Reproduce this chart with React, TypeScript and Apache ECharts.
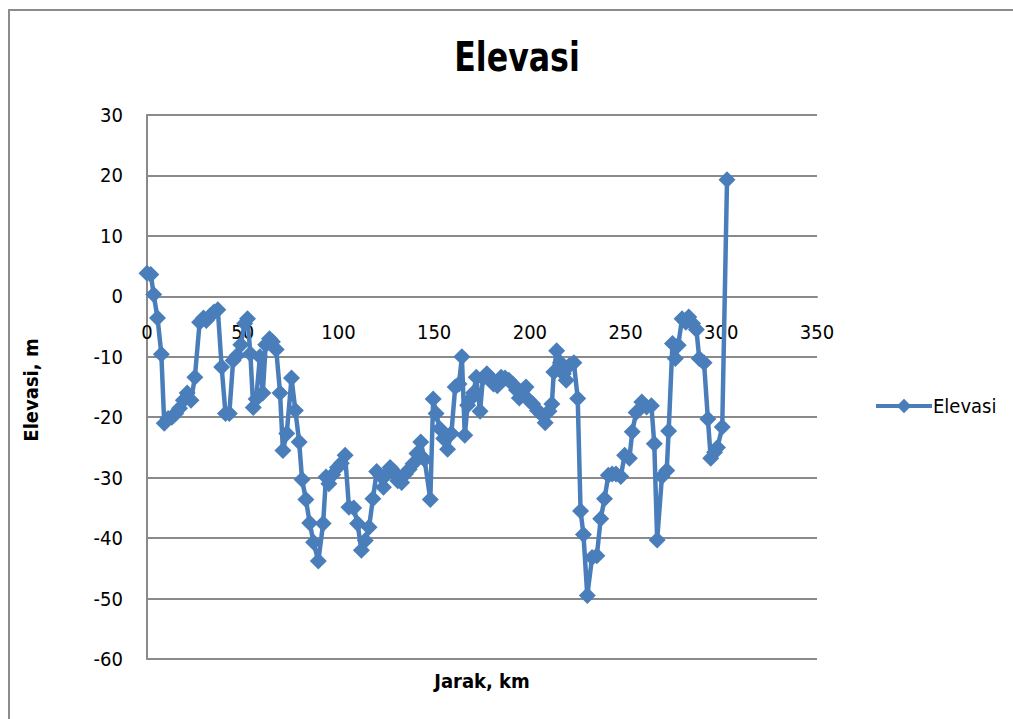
import React, { useEffect, useRef } from "react";
import * as echarts from "echarts";

// Distance along the profile (km)
const jarakKm: number[] = [
  0, 2, 3.5, 5.5, 7.5, 9, 11, 13, 15, 17, 19, 21, 23, 25, 27.5, 29.5, 31, 33, 35, 37,
  39, 41, 43, 45, 47, 49, 51, 52.5, 54, 55.5, 57, 59, 60.5, 62, 64, 65.5, 67.5, 69.5, 71, 73,
  75.5, 77.5, 79.5, 81, 83, 85, 87, 89.5, 92, 93.5, 95, 97, 99.5, 101.5, 103.5, 105.5, 108, 110, 112, 114,
  116, 118, 120, 122, 123.5, 125, 127, 129, 131, 133, 135, 137, 139, 141, 143, 145, 148, 149.5, 151, 153,
  155, 157, 159, 161, 163, 164.5, 166, 167.5, 169, 170.5, 172, 174, 175.5, 177.5, 179.5, 181, 183, 185, 187, 189,
  191, 193, 194.5, 196.5, 198, 199.5, 201.5, 204, 206, 208, 210, 211.5, 212.5, 214, 216, 217.5, 219, 220.5, 223, 225,
  226.5, 228, 230, 232.5, 235, 237, 239, 241, 243, 245, 247.5, 249.5, 252, 253.5, 255.5, 258.5, 261, 263.5, 265, 266.5,
  269, 271.5, 272.5, 274.5, 276, 277.5, 279.5, 281.5, 283, 285, 287, 288.5, 291, 293, 294.5, 296.5, 298, 300.5, 303,
];

// Elevation at each distance (m)
const elevasiM: number[] = [
  3.8, 3.6, 0.3, -3.6, -9.6, -21, -20.2, -20, -19.4, -18.5, -17.2, -16, -17.2, -13.4, -4.3, -3.6, -4, -3.2, -2.6, -2.2,
  -11.7, -19.4, -19.4, -10.6, -9.8, -8, -4.5, -3.7, -9.5, -18.4, -17, -10, -16, -8, -7, -7.5, -8.8, -16, -25.5, -22.7,
  -13.5, -18.9, -24.1, -30.3, -33.6, -37.5, -40.7, -43.8, -37.6, -29.9, -31, -29.5, -28.3, -27.6, -26.3, -34.9, -35, -37.6, -42, -40.4,
  -38.2, -33.5, -29, -29.7, -31.6, -29.5, -28.3, -29, -30.5, -30.8, -29.4, -28.6, -27.7, -26, -24.1, -27, -33.6, -17, -19.4, -21.9,
  -23.5, -25.3, -22.7, -15, -14.5, -10, -23, -18, -17, -16, -13.4, -19, -13.5, -12.8, -13.5, -14.5, -14.8, -13.4, -13.5, -13.9,
  -14.5, -15.5, -16.8, -15.5, -15, -17.2, -17.8, -18.9, -19.5, -20.9, -19, -17.8, -12.5, -9, -11, -12.8, -13.9, -11.5, -11, -16.9,
  -35.5, -39.4, -49.5, -43.2, -42.9, -36.8, -33.5, -29.6, -29.4, -29.4, -29.8, -26.3, -26.8, -22.4, -19.2, -17.5, -18.3, -18.1, -24.4, -40.3,
  -29.8, -28.8, -22.3, -7.8, -10.3, -8.1, -3.7, -4.3, -3.4, -4.5, -5.5, -10.3, -11, -20.3, -26.8, -25.8, -25, -21.6, 19.3,
];

const seriesName = "Elevasi";
const xTicks = { min: 0, max: 350, step: 50 };
const yTicks = { min: -60, max: 30, step: 10 };

const FONT = "'Liberation Sans Narrow', 'DejaVu Sans Condensed', sans-serif";
const LINE_BLUE = "#4A7EBB";
const GRID_GRAY = "#8A8A8A";

const GRID_TOP = 115;
const GRID_HEIGHT = 544;

export default function App() {
  const ref = useRef<HTMLDivElement>(null);

  useEffect(() => {
    if (!ref.current) return;
    const chart = echarts.init(ref.current, undefined, { renderer: "svg" });
    const points = jarakKm.map((x, i) => [x, elevasiM[i]]);

    // The horizontal axis sits on the zero line, as in a spreadsheet chart
    const zeroFromBottom = (GRID_HEIGHT * (0 - yTicks.min)) / (yTicks.max - yTicks.min);

    chart.setOption({
      animation: false,
      backgroundColor: "#ffffff",
      textStyle: { fontFamily: FONT },
      grid: { left: 147, top: GRID_TOP, width: 670, height: GRID_HEIGHT, containLabel: false },
      xAxis: {
        type: "value",
        position: "bottom",
        offset: -zeroFromBottom,
        min: xTicks.min,
        max: xTicks.max,
        interval: xTicks.step,
        axisLine: { show: true, onZero: false, lineStyle: { color: GRID_GRAY, width: 2 } },
        axisTick: { show: false },
        splitLine: { show: false },
        axisLabel: { color: "#000", fontSize: 20, fontFamily: FONT, margin: 26 },
      },
      yAxis: {
        type: "value",
        min: yTicks.min,
        max: yTicks.max,
        interval: yTicks.step,
        axisLine: { show: true, onZero: false, lineStyle: { color: GRID_GRAY, width: 2 } },
        axisTick: { show: false },
        splitLine: { show: true, lineStyle: { color: GRID_GRAY, width: 2 } },
        axisLabel: { color: "#000", fontSize: 20, fontFamily: FONT, margin: 24 },
      },
      legend: {
        show: true,
        orient: "vertical",
        left: 869,
        top: 391,
        itemWidth: 56,
        itemHeight: 18,
        itemGap: 4,
        lineStyle: { width: 4 },
        textStyle: { color: "#000", fontSize: 20, fontFamily: FONT, padding: [0, 0, 0, -4] },
        data: [seriesName],
      },
      series: [
        {
          name: seriesName,
          type: "line",
          data: points,
          symbol: "diamond",
          symbolSize: 17,
          showAllSymbol: true,
          lineStyle: { color: LINE_BLUE, width: 4.5 },
          itemStyle: { color: LINE_BLUE },
        },
      ],
      graphic: [
        {
          type: "rect",
          shape: { x: 9, y: 10, width: 1100, height: 800 },
          style: { fill: "none", stroke: "#8C8C8C", lineWidth: 2 },
          silent: true,
        },
        {
          type: "text",
          x: 517,
          y: 57,
          scaleX: 0.88,
          style: {
            text: "Elevasi",
            fontFamily: FONT,
            fontWeight: "bold",
            fontSize: 40,
            fill: "#000",
            textAlign: "center",
            textVerticalAlign: "middle",
          },
        },
        {
          type: "text",
          x: 482,
          y: 681,
          style: {
            text: "Jarak, km",
            fontFamily: FONT,
            fontWeight: "bold",
            fontSize: 20,
            fill: "#000",
            textAlign: "center",
            textVerticalAlign: "middle",
          },
        },
        {
          type: "text",
          x: 31,
          y: 390,
          rotation: Math.PI / 2,
          style: {
            text: "Elevasi, m",
            fontFamily: FONT,
            fontWeight: "bold",
            fontSize: 20,
            fill: "#000",
            textAlign: "center",
            textVerticalAlign: "middle",
          },
        },
      ],
    });

    return () => chart.dispose();
  }, []);

  return (
    <div
      ref={ref}
      style={{ position: "fixed", left: 0, top: 0, width: 1013, height: 719, background: "#fff" }}
    />
  );
}
